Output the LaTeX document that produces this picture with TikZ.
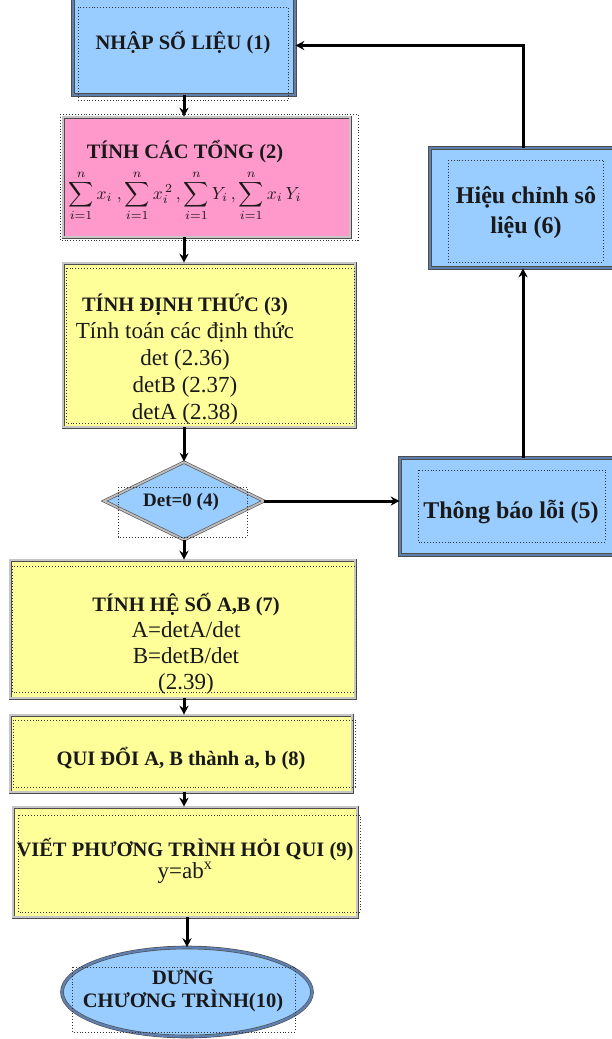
\documentclass[tikz,border=0pt]{standalone}
\usepackage{fontspec}
\setmainfont{Liberation Serif}
\usetikzlibrary{shapes.geometric,arrows.meta}
\definecolor{lblue}{HTML}{99CCFF}
\definecolor{lpink}{HTML}{FF99CC}
\definecolor{lyellow}{HTML}{FFFF99}
\definecolor{bborder}{HTML}{5F7FAF}
\begin{document}
\begin{tikzpicture}[x=1pt,y=-1pt,
  bluebox/.style={rectangle, fill=lblue, draw=black!70, line width=0.6pt, double=bborder, double distance=2.6pt, inner sep=0pt},
  yelbox/.style={rectangle, fill=lyellow, draw=black!70, line width=0.6pt, double=gray!45, double distance=1.8pt, inner sep=0pt},
  pinkbox/.style={yelbox, fill=lpink},
  frame/.style={dotted, line width=0.9pt, black!80},
  arr/.style={line width=3pt, -{Stealth[length=9pt,width=9pt]}},
  lbl/.style={align=center, inner sep=0pt, text=black!90},
  bt/.style={font=\bfseries\fontsize{20.5}{23}\selectfont}
]
\useasboundingbox (0,0) rectangle (612,1039);

% shapes
\node[bluebox, minimum width=222pt, minimum height=99pt] (n1) at (184,45.5) {};
\node[pinkbox, minimum width=287pt, minimum height=120pt] (n2) at (206.5,177) {};
\node[yelbox, minimum width=292pt, minimum height=164pt] (n3) at (209,345) {};
\node[diamond, aspect=2.05, fill=lblue, draw=black!65, line width=0.7pt, double=gray!50, double distance=1.8pt, minimum width=160pt, minimum height=78pt, inner sep=0pt] (d4) at (184,501) {};
\node[bluebox, minimum width=214pt, minimum height=97pt] (n5) at (507,506.5) {};
\node[bluebox, minimum width=186pt, minimum height=120pt] (n6) at (523,208) {};
\node[yelbox, minimum width=345pt, minimum height=138pt] (n7) at (182.5,629) {};
\node[yelbox, minimum width=342pt, minimum height=77pt] (n8) at (181,753.5) {};
\node[yelbox, minimum width=344pt, minimum height=110pt] (n9) at (185,862) {};
\node[ellipse, fill=lblue, draw=black!70, line width=0.6pt, double=bborder, double distance=2.4pt, minimum width=250pt, minimum height=89pt, inner sep=0pt] (e10) at (187,992) {};

% dotted text frames
\draw[frame] (78,7) rectangle (288,100);
\draw[frame] (60,114) rectangle (358,240);
\draw[frame] (66,268) rectangle (354,423);
\draw[frame] (118,487) rectangle (247,537);
\draw[frame] (418,470) rectangle (605,542);
\draw[frame] (448,160) rectangle (603,262);
\draw[frame] (12,566) rectangle (356,692);
\draw[frame] (13,720) rectangle (355,787);
\draw[frame] (18,815) rectangle (360,912);
\draw[frame] (72,967) rectangle (295,1032);

% texts
\node[lbl, bt] (t1) at (183,43) {NHẬP SỐ LIỆU (1)};
\node[lbl, bt] (t2) at (185,152) {TÍNH CÁC TỔNG (2)};
\node[lbl] (s2) at (185,196) {\scalebox{1.75}{$\displaystyle\sum_{i=1}^{n} x_i\ ,\sum_{i=1}^{n} x_i^{\,2}\,,\sum_{i=1}^{n} Y_i\,,\sum_{i=1}^{n} x_i\, Y_i$}};
\node[lbl, font=\fontsize{23}{27}\selectfont] (t3) at (185,359) {{\bfseries\fontsize{20.5}{23}\selectfont TÍNH ĐỊNH THỨC (3)}\\Tính toán các định thức\\det (2.36)\\detB (2.37)\\detA (2.38)};
\node[lbl, font=\bfseries\fontsize{19}{22}\selectfont] (t4) at (181,502) {Det=0 (4)};
\node[lbl, font=\bfseries\fontsize{24}{28}\selectfont] (t5) at (511,512) {Thông báo lỗi (5)};
\node[lbl, font=\bfseries\fontsize{24}{30}\selectfont] (t6) at (526,213) {Hiệu chỉnh sô\\liệu (6)};
\node[lbl, font=\fontsize{23}{26}\selectfont] (t7) at (186,644) {{\bfseries\fontsize{20.5}{23}\selectfont TÍNH HỆ SỐ A,B (7)}\\A=detA/det\\B=detB/det\\(2.39)};
\node[lbl, bt] (t8) at (181,759) {QUI ĐỔI A, B thành a, b (8)};
\node[lbl, font=\fontsize{23}{22}\selectfont] (t9) at (185,861) {{\bfseries\fontsize{20.5}{22}\selectfont VIẾT PHƯƠNG TRÌNH HỎI QUI (9)}\\y=ab\textsuperscript{x}};
\node[lbl, font=\bfseries\fontsize{20.5}{23}\selectfont] (t10) at (183,991) {DƯNG\\CHƯƠNG TRÌNH(10)};

% connectors
\draw[arr] (n1.south) -- (n1.south |- n2.north);
\draw[arr] (n1.south |- n2.south) -- (n1.south |- n3.north);
\draw[arr] (n1.south |- n3.south) -- (d4.north);
\draw[arr] (d4.east) -- (d4.east -| n5.west);
\draw[arr] (n6.south |- n5.north) -- (n6.south);
\draw[arr] (n6.north) |- (n1.east);
\draw[arr] (d4.south) -- (d4.south |- n7.north);
\draw[arr] (d4.south |- n7.south) -- (d4.south |- n8.north);
\draw[arr] (d4.south |- n8.south) -- (d4.south |- n9.north);
\draw[arr] (e10.north |- n9.south) -- (e10.north);
\end{tikzpicture}
\end{document}
